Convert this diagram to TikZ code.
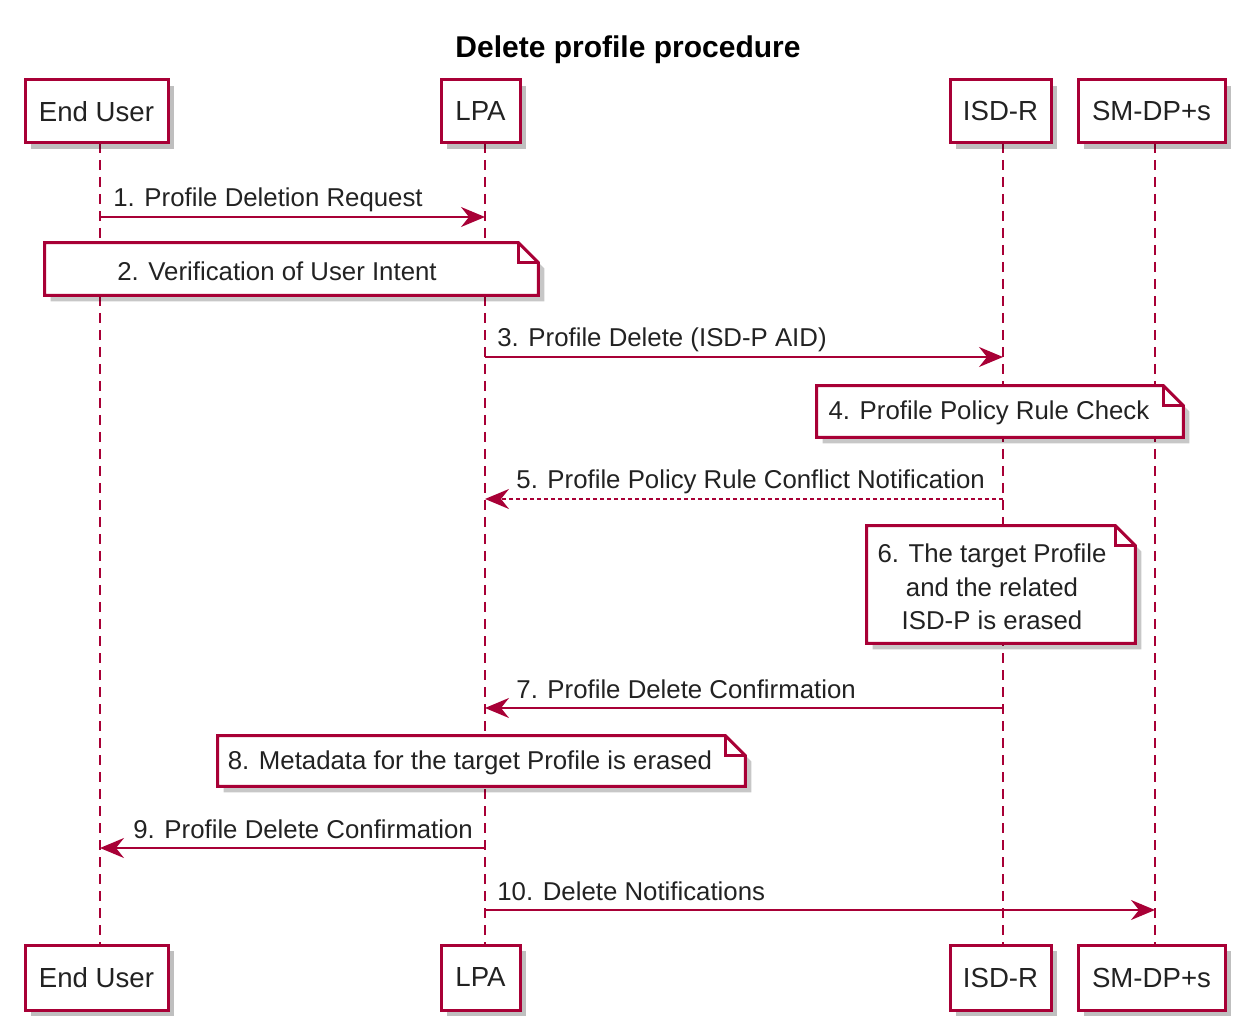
\documentclass[tikz,border=0pt]{standalone}
\usepackage{fontspec}
\setmainfont{Liberation Sans}
\usetikzlibrary{arrows.meta,calc,shadows}
\definecolor{uml}{HTML}{A80036}
\definecolor{txt}{HTML}{222222}
\pgfdeclarelayer{lifelayer}
\pgfdeclarelayer{notelayer}
\pgfsetlayers{lifelayer,notelayer,main}
\tikzset{
  part/.style={draw=uml, line width=1.5pt, fill=white, text=txt,
    font=\fontsize{13.8}{16}\selectfont, inner sep=0pt,
    drop shadow={shadow xshift=3pt, shadow yshift=-3pt, fill=black, opacity=0.25}},
  life/.style={draw=uml, line width=1pt, dash pattern=on 5pt off 3.5pt},
  msg/.style={draw=uml, line width=1pt, -{Stealth[length=12pt,width=10pt,inset=4pt]}},
  rmsg/.style={msg, dash pattern=on 2pt off 1.5pt},
  lbl/.style={anchor=base west, inner sep=0pt, text=txt, font=\fontsize{12.9}{15}\selectfont},
  notetxt/.style={inner sep=0pt, text=txt, font=\fontsize{12.9}{16.75}\selectfont, align=center},
  notebox/.style={draw=none, inner sep=0pt},
  noteline/.style={draw=uml, line width=1.5pt, fill=white, line join=miter},
}
\newcommand\drawnote[1]{%
  \fill[black, opacity=0.22] ($(#1.north west)+(6,6)$) -- ($(#1.north east)+(-14,6)$) -- ($(#1.north east)+(6,26)$) -- ($(#1.south east)+(6,6)$) -- ($(#1.south west)+(6,6)$) -- cycle;
  \filldraw[noteline] (#1.north west) -- ($(#1.north east)+(-20,0)$) -- ($(#1.north east)+(0,20)$) -- (#1.south east) -- (#1.south west) -- cycle;
  \draw[noteline, fill=none] ($(#1.north east)+(-20,0)$) -- ($(#1.north east)+(-20,20)$) -- ($(#1.north east)+(0,20)$);
}
\begin{document}
\begin{tikzpicture}[x=0.5pt, y=-0.5pt]
\useasboundingbox (0,0) rectangle (1243,1021);

% title
\node[font=\bfseries\fontsize{15}{18}\selectfont, text=black, inner sep=0pt] (title) at (628,50) {Delete profile procedure};

% participants top
\node[part, minimum width=71.5pt, minimum height=31.5pt] (euTop) at (96.5,111.5) {End User};
\node[part, minimum width=39.5pt, minimum height=31.5pt] (lpaTop) at (480.5,111.5) {LPA};
\node[part, minimum width=50.5pt, minimum height=31.5pt] (isdTop) at (1000.5,111.5) {ISD-R};
\node[part, minimum width=73.5pt, minimum height=31.5pt] (smTop) at (1151.5,111.5) {SM-DP+s};
% participants bottom
\node[part, minimum width=71.5pt, minimum height=32.5pt] (euBot) at (96.5,977.5) {End User};
\node[part, minimum width=39.5pt, minimum height=32.5pt] (lpaBot) at (480.5,977.5) {LPA};
\node[part, minimum width=50.5pt, minimum height=32.5pt] (isdBot) at (1000.5,977.5) {ISD-R};
\node[part, minimum width=73.5pt, minimum height=32.5pt] (smBot) at (1151.5,977.5) {SM-DP+s};

% lifelines
\coordinate (euA) at (100,143);  \coordinate (euZ) at (100,945);
\coordinate (lpaA) at (485,143); \coordinate (lpaZ) at (485,945);
\coordinate (isdA) at (1003,143); \coordinate (isdZ) at (1003,945);
\coordinate (smA) at (1155,143); \coordinate (smZ) at (1155,945);
\begin{pgfonlayer}{lifelayer}
\draw[life] (euA) -- (euZ);
\draw[life] (lpaA) -- (lpaZ);
\draw[life] (isdA) -- (isdZ);
\draw[life] (smA) -- (smZ);
\end{pgfonlayer}

% message 1
\coordinate (m1a) at (100,217); \coordinate (m1b) at (485,217);
\draw[msg] (m1a) -- (m1b);
\node[lbl] (l1) at (113,207) {1. Profile Deletion Request};

% note 2
\node[notebox, minimum width=246.5pt, minimum height=26pt] (n2) at (291.5,269) {};
\begin{pgfonlayer}{notelayer}\drawnote{n2}\end{pgfonlayer}
\node[notetxt] (n2t) at (277,271) {2. Verification of User Intent};

% message 3
\coordinate (m3a) at (485,357); \coordinate (m3b) at (1003,357);
\draw[msg] (m3a) -- (m3b);
\node[lbl] (l3) at (497,347) {3. Profile Delete (ISD-P AID)};

% note 4
\node[notebox, minimum width=183pt, minimum height=25.5pt] (n4) at (1000,411.5) {};
\begin{pgfonlayer}{notelayer}\drawnote{n4}\end{pgfonlayer}
\node[notetxt] (n4t) at (989,413) {4. Profile Policy Rule Check};

% message 5
\coordinate (m5a) at (1003,499); \coordinate (m5b) at (485,499);
\draw[rmsg] (m5a) -- (m5b);
\node[lbl] (l5) at (516,489) {5. Profile Policy Rule Conflict Notification};

% note 6
\node[notebox, minimum width=134pt, minimum height=58.5pt] (n6) at (1001,584.5) {};
\begin{pgfonlayer}{notelayer}\drawnote{n6}\end{pgfonlayer}
\node[notetxt] (n6t) at (992,587) {6. The target Profile\\and the related\\ISD-P is erased};

% message 7
\coordinate (m7a) at (1003,708); \coordinate (m7b) at (485,708);
\draw[msg] (m7a) -- (m7b);
\node[lbl] (l7) at (516,698) {7. Profile Delete Confirmation};

% note 8
\node[notebox, minimum width=263.5pt, minimum height=25pt] (n8) at (481.5,761) {};
\begin{pgfonlayer}{notelayer}\drawnote{n8}\end{pgfonlayer}
\node[notetxt] (n8t) at (470,763) {8. Metadata for the target Profile is erased};

% message 9
\coordinate (m9a) at (485,848); \coordinate (m9b) at (100,848);
\draw[msg] (m9a) -- (m9b);
\node[lbl] (l9) at (133,838) {9. Profile Delete Confirmation};

% message 10
\coordinate (m10a) at (485,910); \coordinate (m10b) at (1155,910);
\draw[msg] (m10a) -- (m10b);
\node[lbl] (l10) at (497,900) {10. Delete Notifications};
\end{tikzpicture}
\end{document}
